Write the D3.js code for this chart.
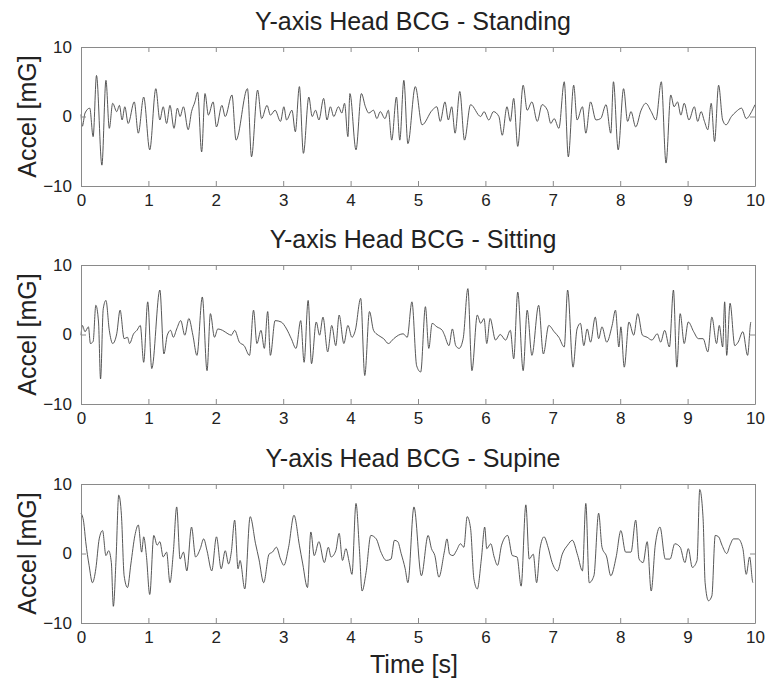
<!DOCTYPE html>
<html lang="en">
<head>
<meta charset="UTF-8">
<title>Y-axis Head BCG</title>
<script src="https://d3js.org/d3.v7.min.js"></script>
<style>
  body { margin: 0; background: #fff; }
  text { font-family: "Liberation Sans", Arial, sans-serif; fill: #222; }
</style>
</head>
<body>
<svg id="chart" width="767" height="684"></svg>
<script>
// panel titles
const titles = ["Y-axis Head BCG - Standing", "Y-axis Head BCG - Sitting", "Y-axis Head BCG - Supine"];
const xTicks = [0, 1, 2, 3, 4, 5, 6, 7, 8, 9, 10];
const yTicks = [-10, 0, 10];

// standing: turning points (time s, accel mG)
const standT = [0.00,0.02,0.06,0.13,0.18,0.23,0.31,0.37,0.42,0.47,0.53,0.57,0.61,0.65,0.70,0.79,0.85,0.93,1.02,1.11,1.17,1.22,1.27,1.32,1.38,1.43,1.47,1.52,1.59,1.64,1.69,1.73,1.79,1.84,1.89,1.96,2.01,2.09,2.14,2.24,2.30,2.47,2.53,2.62,2.68,2.76,2.81,2.88,2.96,3.01,3.05,3.13,3.18,3.24,3.30,3.38,3.43,3.48,3.53,3.60,3.65,3.70,3.75,3.82,3.87,3.91,3.96,3.99,4.08,4.16,4.22,4.27,4.34,4.39,4.44,4.51,4.56,4.61,4.68,4.73,4.79,4.85,4.96,5.06,5.21,5.28,5.33,5.40,5.45,5.50,5.55,5.62,5.69,5.78,5.93,5.98,6.05,6.12,6.20,6.25,6.32,6.37,6.42,6.48,6.56,6.62,6.69,6.77,6.84,6.92,6.97,7.02,7.09,7.17,7.23,7.31,7.36,7.44,7.49,7.56,7.64,7.71,7.79,7.86,7.90,7.97,8.05,8.11,8.16,8.23,8.31,8.38,8.46,8.53,8.61,8.68,8.75,8.80,8.85,8.90,8.95,9.02,9.10,9.15,9.20,9.25,9.30,9.35,9.40,9.46,9.52,9.57,9.65,9.72,9.80,9.87,9.95,10.00];
const standV = [0.3,-1.4,0.5,1.2,-2.9,5.9,-7.0,5.2,-1.7,1.9,0.7,1.6,-0.5,1.4,-1.0,2.1,-2.4,2.8,-4.8,4.0,-0.5,1.4,-1.0,1.6,-1.7,1.2,0.0,1.4,-1.9,0.7,2.1,3.5,-5.1,3.3,0.2,2.1,-1.5,1.6,0.0,3.1,-3.4,4.0,-5.8,3.8,-0.3,1.6,0.2,0.9,-0.7,1.4,-0.5,0.9,-2.2,4.3,-5.3,2.8,0.0,0.9,-0.5,2.6,-0.5,1.4,0.0,1.4,0.5,1.9,-2.9,3.3,-4.8,3.3,1.4,0.5,0.9,-0.3,0.7,-0.3,0.9,-3.4,2.8,-3.4,5.2,-3.9,4.3,-1.2,0.9,1.4,-0.7,2.1,-0.5,1.4,-2.4,3.6,-3.4,1.7,0.0,0.7,-0.5,0.7,0.0,-2.7,1.4,-0.7,2.6,-4.3,4.5,0.9,2.1,-0.7,1.7,0.9,-1.0,-0.3,-1.7,5.0,-5.8,4.5,-0.5,1.4,-2.4,2.1,-0.5,-0.3,1.7,-2.4,5.0,-4.8,4.0,-0.7,0.7,-1.5,0.9,1.9,0.7,-0.5,5.0,-6.7,3.1,1.4,2.1,0.2,1.9,-0.5,1.4,-0.7,0.7,-0.7,-1.9,1.9,-3.6,4.5,-0.5,-1.2,0.0,0.7,1.2,-0.3,0.7,1.7];

// sitting
const sitT = [0.00,0.02,0.06,0.11,0.14,0.18,0.22,0.26,0.29,0.33,0.37,0.42,0.47,0.53,0.58,0.64,0.69,0.72,0.78,0.83,0.88,0.93,0.99,1.05,1.17,1.23,1.28,1.33,1.37,1.42,1.48,1.54,1.60,1.66,1.72,1.80,1.87,1.92,1.98,2.03,2.10,2.18,2.23,2.28,2.35,2.42,2.50,2.56,2.61,2.67,2.72,2.77,2.81,2.88,2.97,3.05,3.12,3.19,3.26,3.31,3.37,3.42,3.49,3.54,3.59,3.66,3.72,3.78,3.83,3.90,3.96,4.02,4.07,4.15,4.21,4.28,4.34,4.41,4.49,4.56,4.64,4.71,4.78,4.84,4.91,4.98,5.04,5.11,5.16,5.21,5.28,5.36,5.39,5.46,5.51,5.56,5.61,5.67,5.74,5.80,5.88,5.93,5.98,6.02,6.07,6.15,6.22,6.30,6.37,6.42,6.48,6.56,6.62,6.69,6.79,6.86,6.94,7.02,7.09,7.17,7.22,7.30,7.36,7.41,7.46,7.51,7.56,7.63,7.68,7.73,7.80,7.88,7.93,7.98,8.01,8.06,8.13,8.20,8.26,8.33,8.40,8.47,8.55,8.60,8.66,8.73,8.79,8.84,8.89,8.95,9.01,9.09,9.16,9.23,9.30,9.36,9.43,9.47,9.52,9.55,9.58,9.63,9.70,9.75,9.82,9.89,9.94,10.00];
const sitV = [-0.1,1.3,0.4,1.1,-1.3,-1.0,4.2,1.8,-6.4,3.7,4.9,0.6,-1.3,0.1,3.5,-0.6,-0.4,-1.3,0.1,0.6,1.3,-4.0,4.7,-4.9,6.4,-2.8,-0.1,0.6,-0.4,0.8,2.0,-0.1,2.3,-0.1,-3.0,5.4,-5.2,3.0,-0.4,0.8,0.6,0.1,-0.1,0.6,-1.1,-1.6,-3.0,3.5,-1.3,0.6,-2.0,3.3,-3.0,2.0,1.8,0.8,-0.6,-2.0,2.0,-4.0,4.9,-4.2,1.8,-0.1,2.5,-2.5,1.3,-1.6,2.8,-1.3,1.3,-0.4,0.6,5.2,-5.9,3.3,0.6,-0.1,-0.6,-1.3,-0.6,-0.1,0.1,-0.4,4.7,-4.5,-5.4,4.0,-2.0,1.6,1.1,0.6,0.0,-1.6,0.8,-1.6,-2.0,-0.6,6.6,-5.2,2.8,1.6,2.3,-1.3,2.3,-0.8,0.0,-0.8,0.6,-3.5,6.1,-5.2,3.5,-3.0,4.2,-2.8,1.3,0.4,-0.4,-1.8,6.4,-4.7,0.8,1.6,-1.6,0.8,-1.1,2.5,-0.6,1.1,-1.1,1.3,3.5,-1.8,1.1,-4.7,1.8,-0.1,3.0,-0.1,-0.4,-0.8,0.1,-1.1,0.6,-1.8,6.4,-4.7,3.0,-1.3,1.8,0.4,-0.6,-0.6,-2.5,2.5,-1.3,1.3,-1.8,4.7,-3.0,4.5,-1.6,-1.1,0.4,-3.0,1.8];

// supine
const supT = [0.00,0.04,0.07,0.12,0.17,0.22,0.27,0.32,0.37,0.41,0.45,0.48,0.52,0.56,0.60,0.64,0.69,0.74,0.80,0.85,0.90,0.93,0.97,1.02,1.08,1.13,1.17,1.22,1.27,1.32,1.37,1.42,1.47,1.52,1.57,1.64,1.70,1.77,1.82,1.87,1.94,2.01,2.08,2.14,2.19,2.23,2.28,2.33,2.36,2.43,2.51,2.59,2.64,2.71,2.79,2.84,2.90,2.96,3.01,3.08,3.16,3.24,3.29,3.36,3.41,3.46,3.53,3.61,3.67,3.71,3.78,3.83,3.88,3.93,3.98,4.02,4.08,4.13,4.17,4.23,4.30,4.38,4.45,4.53,4.60,4.65,4.70,4.75,4.81,4.85,4.94,5.05,5.15,5.20,5.25,5.31,5.39,5.43,5.47,5.52,5.57,5.63,5.68,5.73,5.78,5.83,5.88,5.94,5.99,6.02,6.08,6.13,6.18,6.24,6.33,6.40,6.47,6.53,6.60,6.65,6.71,6.76,6.81,6.87,6.93,6.99,7.07,7.14,7.22,7.29,7.37,7.44,7.49,7.54,7.61,7.68,7.73,7.80,7.86,7.94,8.01,8.08,8.16,8.23,8.28,8.34,8.40,8.46,8.52,8.59,8.67,8.74,8.81,8.89,8.96,9.01,9.07,9.14,9.18,9.23,9.26,9.31,9.36,9.41,9.46,9.51,9.58,9.63,9.68,9.75,9.82,9.87,9.92,9.97,10.00];
const supV = [5.8,4.5,1.7,-1.7,-4.2,-2.2,2.1,3.3,-0.3,0.4,-1.3,-7.6,-0.8,8.4,5.5,-3.2,-4.9,-1.5,2.6,4.1,0.2,2.4,-0.3,-5.9,2.6,1.2,1.7,-0.5,0.2,-4.2,0.2,6.7,-0.8,0.2,-2.5,3.8,-0.5,0.7,2.1,0.4,-2.5,2.4,-2.2,0.4,-1.5,0.2,4.8,-2.2,-1.0,-5.1,5.3,1.4,-0.8,-4.2,-0.1,0.2,0.9,-0.8,-1.7,0.9,5.5,1.2,-1.5,-4.9,3.1,-0.3,1.7,-1.3,0.9,-0.5,0.4,2.9,-1.0,0.7,-1.3,-3.0,7.2,0.7,-5.4,-2.7,2.6,2.1,0.2,-1.0,-0.8,1.9,1.7,0.0,-2.2,-4.2,6.7,-3.2,2.6,0.7,-0.3,-3.4,0.2,2.1,-0.1,-0.3,0.4,1.4,0.9,5.3,3.6,-3.7,-5.1,-0.8,3.8,0.7,1.4,-0.5,-1.7,1.2,2.6,-0.3,-0.5,-4.7,7.0,-0.8,-0.1,-4.2,0.7,2.4,0.9,-1.3,-2.5,-0.1,1.2,1.9,-0.3,-2.5,7.2,-4.2,-3.2,5.8,0.9,-0.5,-3.2,-0.5,3.3,0.2,0.2,4.8,-0.8,-1.3,1.7,-5.4,1.2,3.8,-0.8,-0.8,1.4,0.9,-1.3,0.7,-2.0,-1.0,9.2,5.0,-4.2,-6.8,-6.1,2.6,2.4,1.2,0.0,1.2,2.1,2.1,0.7,-3.0,-0.5,-4.2];

const seriesT = [standT, sitT, supT];
const seriesV = [standV, sitV, supV];

const svg = d3.select("#chart");
const left = 81, right = 755, ph = 139;
const tops = [47, 265, 484];

const x = d3.scaleLinear().domain([0, 10]).range([left, right]);

tops.forEach(function(top, i) {
  const y = d3.scaleLinear().domain([-10, 10]).range([top + ph, top]);
  const g = svg.append("g");

  // the trace
  const pts = seriesT[i].map((t, k) => [t, seriesV[i][k]]);
  const line = d3.line()
    .x(d => x(d[0]))
    .y(d => y(d[1]))
    .curve(d3.curveMonotoneX);
  g.append("path")
    .datum(pts)
    .attr("d", line)
    .attr("fill", "none")
    .attr("stroke", "#444")
    .attr("stroke-width", 0.9);

  // box, matlab style: inward ticks on all four sides
  const bottomAx = d3.axisBottom(x).tickValues(xTicks).tickSizeInner(-5).tickSizeOuter(0).tickPadding(8).tickFormat(d3.format("d"));
  const topAx = d3.axisTop(x).tickValues(xTicks).tickSizeInner(-5).tickSizeOuter(0).tickFormat("");
  const leftAx = d3.axisLeft(y).tickValues(yTicks).tickSizeInner(-5).tickSizeOuter(0).tickPadding(9);
  const rightAx = d3.axisRight(y).tickValues(yTicks).tickSizeInner(-5).tickSizeOuter(0).tickFormat("");

  g.append("g").attr("transform", "translate(0," + (top + ph) + ")").call(bottomAx);
  g.append("g").attr("transform", "translate(0," + top + ")").call(topAx);
  g.append("g").attr("transform", "translate(" + left + ",0)").call(leftAx);
  g.append("g").attr("transform", "translate(" + right + ",0)").call(rightAx);

  g.selectAll(".domain, .tick line").attr("stroke", "#8a8a8a");
  g.selectAll(".tick text")
    .style("font-family", "'Liberation Sans', Arial, sans-serif")
    .style("font-size", "17px")
    .attr("fill", "#222");

  g.append("text")
    .attr("x", 413)
    .attr("y", top - 17)
    .attr("text-anchor", "middle")
    .style("font-size", "25px")
    .text(titles[i]);

  g.append("text")
    .attr("transform", "translate(36," + (top + ph / 2) + ") rotate(-90)")
    .attr("text-anchor", "middle")
    .style("font-size", "25px")
    .text("Accel [mG]");
});

svg.append("text")
  .attr("x", 414)
  .attr("y", 673)
  .attr("text-anchor", "middle")
  .style("font-size", "25px")
  .text("Time [s]");
</script>
</body>
</html>
